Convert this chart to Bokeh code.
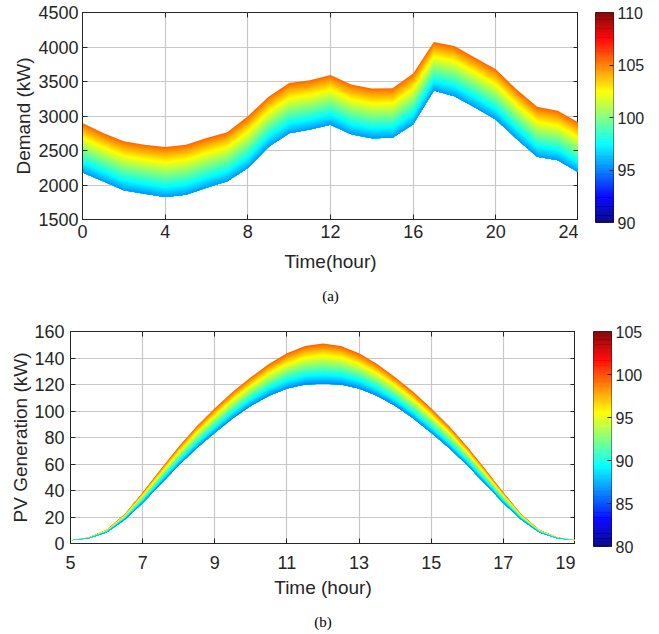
import numpy as np
from bokeh.plotting import figure
from bokeh.models import FixedTicker, Range1d, Title, LinearAxis
from bokeh.layouts import column, row
from bokeh.embed import file_html
from bokeh.resources import INLINE

# ---------------- data ----------------
hours_a = [0, 1, 2, 3, 4, 5, 6, 7, 8, 9, 10, 11, 12, 13, 14, 15, 16, 17, 18, 19, 20, 21, 22, 23, 24]
demand_low = [2180, 2055, 1925, 1875, 1825, 1860, 1960, 2055, 2245, 2555, 2750, 2805, 2875,
              2735, 2678, 2685, 2882, 3370, 3285, 3125, 2950, 2670, 2410, 2360, 2185]
demand_high = [2900, 2755, 2635, 2585, 2550, 2585, 2680, 2765, 2995, 3280, 3478, 3518, 3595,
               3458, 3398, 3403, 3617, 4072, 4014, 3845, 3676, 3386, 3133, 3077, 2905]
demand_levels = [95.5, 105.5]          # scenario levels covered by the band
demand_cbar_range = [90, 110]
demand_cbar_ticks = [90, 95, 100, 105, 110]
demand_x_ticks = [0, 4, 8, 12, 16, 20, 24]
demand_y_ticks = [1500, 2000, 2500, 3000, 3500, 4000, 4500]

hours_b = [5, 5.5, 6, 6.5, 7, 7.5, 8, 8.5, 9, 9.5, 10, 10.5, 11, 11.5, 12,
           12.5, 13, 13.5, 14, 14.5, 15, 15.5, 16, 16.5, 17, 17.5, 18, 18.5, 19]
pv_low = [2.5, 3.8, 8.3, 18, 30.5, 45, 59, 72, 83.5, 94.5, 104, 111.5, 117, 120, 120.5,
          120, 117, 111.5, 104, 94.5, 83.5, 72, 59, 45, 30.5, 18, 8.3, 3.8, 2.5]
pv_high = [2.5, 4.5, 10.3, 22, 38.5, 56, 73, 88.5, 102, 114.5, 125.5, 135.5, 143.5, 149, 151,
           149, 143.5, 135.5, 125.5, 114.5, 102, 88.5, 73, 56, 38.5, 22, 10.3, 4.5, 2.5]
pv_levels = [86.5, 99.5]
pv_cbar_range = [80, 105]
pv_cbar_ticks = [80, 85, 90, 95, 100, 105]
pv_x_ticks = [5, 7, 9, 11, 13, 15, 17, 19]
pv_y_ticks = [0, 20, 40, 60, 80, 100, 120, 140, 160]

FONT = "Liberation Sans"
DARK = "#262626"


def jet(v):
    v = min(max(v, 0.0), 1.0)
    r = min(max(1.5 - abs(4 * v - 3), 0), 1)
    g = min(max(1.5 - abs(4 * v - 2), 0), 1)
    b = min(max(1.5 - abs(4 * v - 1), 0), 1)
    return "#%02x%02x%02x" % (int(round(r * 255)), int(round(g * 255)), int(round(b * 255)))


JET = [jet(i / 255) for i in range(256)]


def box_axis(ticks):
    return LinearAxis(ticker=FixedTicker(ticks=ticks), axis_line_color=None,
                      major_tick_line_color=DARK, major_tick_in=5, major_tick_out=0,
                      minor_tick_line_color=None, major_label_standoff=0,
                      major_label_text_font_size="0px",
                      major_label_overrides={t: "" for t in ticks})


def make_panel(x, low, high, levels, cb_range, xticks, yticks,
               xlabel, ylabel, caption, frame_w, frame_h, borders, st):
    p = figure(x_range=Range1d(xticks[0], xticks[-1]), y_range=Range1d(yticks[0], yticks[-1]),
               frame_width=frame_w, frame_height=frame_h,
               min_border_left=borders[0], min_border_right=borders[1],
               min_border_top=borders[2], min_border_bottom=borders[3],
               output_backend="svg", toolbar_location=None,
               background_fill_color="white", border_fill_color="white")
    p.outline_line_color = DARK
    p.outline_line_width = 1
    p.outline_line_alpha = 1

    p.xgrid.ticker = FixedTicker(ticks=xticks)
    p.ygrid.ticker = FixedTicker(ticks=yticks)
    for g in (p.xgrid, p.ygrid):
        g.grid_line_color = "#c8c8c8"
        g.grid_line_width = 1.2

    # band of scenarios, drawn from the highest level down
    lo = np.array(low, float)
    hi = np.array(high, float)
    n = 60
    for k in range(n, 0, -1):
        top = lo + (hi - lo) * k / n
        level = levels[0] + (levels[1] - levels[0]) * (k - 0.5) / n
        v = (level - cb_range[0]) / (cb_range[1] - cb_range[0])
        p.varea(x=x, y1=lo, y2=top, fill_color=jet(v), fill_alpha=1)

    p.xaxis.ticker = FixedTicker(ticks=xticks)
    p.yaxis.ticker = FixedTicker(ticks=yticks)
    p.xaxis.axis_label = xlabel
    p.yaxis.axis_label = ylabel
    for ax in (p.xaxis[0], p.yaxis[0]):
        ax.axis_line_color = DARK
        ax.major_tick_line_color = DARK
        ax.major_tick_in = 5
        ax.major_tick_out = 0
        ax.minor_tick_line_color = None
        ax.major_label_text_font = FONT
        ax.major_label_text_font_size = "18px"
        ax.major_label_text_color = DARK
        ax.axis_label_text_font = FONT
        ax.axis_label_text_font_size = "19px"
        ax.axis_label_text_font_style = "normal"
        ax.axis_label_text_color = DARK
    p.xaxis.major_label_standoff = st[0]
    p.xaxis.axis_label_standoff = st[1]
    p.yaxis.major_label_standoff = st[2]
    p.yaxis.axis_label_standoff = st[3]

    p.add_layout(box_axis(xticks), "above")
    p.add_layout(box_axis(yticks), "right")

    cap = Title(text=caption, align="center", text_font="Liberation Serif",
                text_font_size="15px", text_font_style="normal", text_color="black",
                standoff=st[4])
    p.add_layout(cap, "below")
    return p


def make_cbar(cb_range, cb_ticks, frame_h, left, top):
    c = figure(x_range=Range1d(0, 1), y_range=Range1d(cb_range[0], cb_range[1]),
               frame_width=18, frame_height=frame_h,
               min_border_left=left, min_border_right=44,
               min_border_top=top, min_border_bottom=14,
               x_axis_location=None, y_axis_location="right",
               output_backend="svg", toolbar_location=None,
               background_fill_color="white", border_fill_color="white")
    c.xgrid.visible = False
    c.ygrid.visible = False
    edges = np.linspace(cb_range[0], cb_range[1], len(JET) + 1)
    c.quad(left=0, right=1, bottom=edges[:-1], top=edges[1:], fill_color=JET,
           line_color=JET, line_width=0.5)
    c.outline_line_color = DARK
    c.outline_line_width = 1
    c.outline_line_alpha = 1
    ax = c.yaxis[0]
    ax.ticker = FixedTicker(ticks=cb_ticks)
    ax.axis_line_color = None
    ax.major_tick_line_color = DARK
    ax.major_tick_in = 4
    ax.major_tick_out = 0
    ax.minor_tick_line_color = None
    ax.major_label_standoff = 4
    ax.major_label_text_font = FONT
    ax.major_label_text_font_size = "16px"
    ax.major_label_text_color = DARK
    return c


pa = make_panel(hours_a, demand_low, demand_high, demand_levels, demand_cbar_range,
                demand_x_ticks, demand_y_ticks,
                "Time(hour)", "Demand (kW)", "(a)", 496, 207, (82, 0, 12, 60),
                (5, 10, 4, 1, 23))
ca = make_cbar(demand_cbar_range, demand_cbar_ticks, 210, 17, 10)

pb = make_panel(hours_b, pv_low, pv_high, pv_levels, pv_cbar_range,
                pv_x_ticks, pv_y_ticks,
                "Time (hour)", "PV Generation (kW)", "(b)", 505, 212, (70, 0, 16, 60),
                (12, 5, 6, 0, 23))
cbb = make_cbar(pv_cbar_range, pv_cbar_ticks, 215, 18, 12)

layout = column(row(pa, ca, spacing=0), row(pb, cbb, spacing=0), spacing=0)
open("out.html", "w").write(file_html(layout, INLINE))
